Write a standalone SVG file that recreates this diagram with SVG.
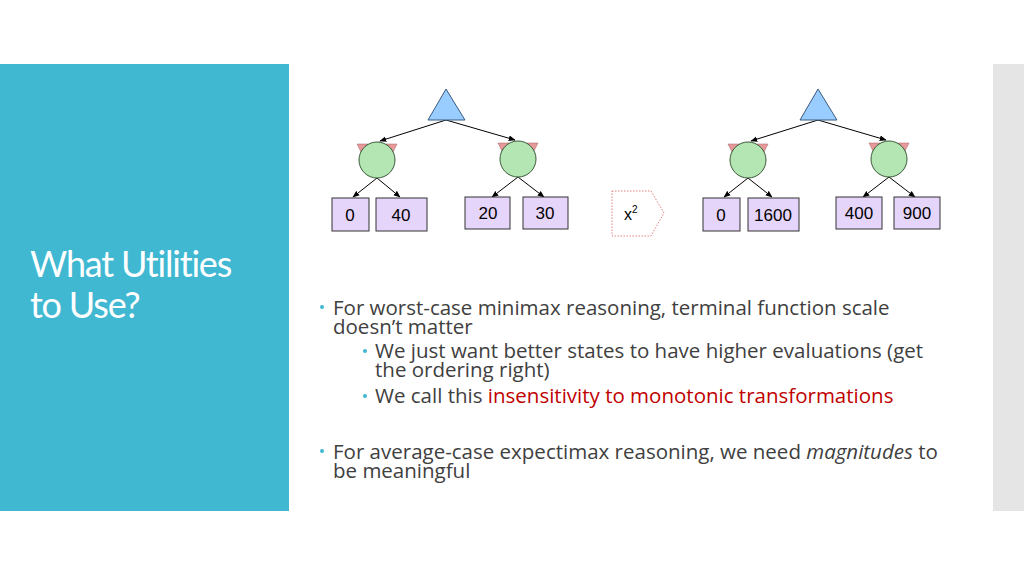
<svg xmlns="http://www.w3.org/2000/svg" width="1024" height="576" viewBox="0 0 1024 576">
<defs>
<marker id="ah" viewBox="0 0 10 10" refX="9" refY="5" markerWidth="7" markerHeight="7" orient="auto"><path d="M0,1 L10,5 L0,9 z" fill="#000"/></marker>
<style>
.tri{fill:#99CCFF;stroke:#3a5a80;stroke-width:1}
.cir{fill:#B3E6B3;stroke:#3c5a3c;stroke-width:1}
.ear{fill:#E89A9A;stroke:#a06060;stroke-width:0.5}
.box{fill:#E6D5FA;stroke:#333;stroke-width:1}
.num{font-family:"Liberation Sans",Arial,sans-serif;font-size:17px;fill:#000;text-anchor:middle}
.edge{stroke:#000;stroke-width:1;fill:none;marker-end:url(#ah)}
.body{font-family:"Open Sans",sans-serif;font-size:20.5px;fill:#404040}
.bul{fill:#40B8D2}
</style>
</defs>
<rect width="1024" height="576" fill="#fff"/>
<rect x="0" y="64" width="289" height="447" fill="#40B8D2"/>
<rect x="993" y="64" width="31" height="447" fill="#E5E5E5"/>
<text font-family="Lato,sans-serif" font-size="36" fill="#fff" letter-spacing="-1.2"><tspan x="30" y="277">What Utilities</tspan><tspan x="30" y="318">to Use?</tspan></text>

<g id="connectors">
<line class="edge" x1="446" y1="120" x2="380" y2="141"/>
<line class="edge" x1="446" y1="120" x2="515" y2="140"/>
<line class="edge" x1="377" y1="178" x2="353" y2="197"/>
<line class="edge" x1="377" y1="178" x2="400" y2="197"/>
<line class="edge" x1="518" y1="177" x2="492" y2="197"/>
<line class="edge" x1="518" y1="177" x2="544" y2="197"/>
<line class="edge" x1="818" y1="120" x2="751" y2="141"/>
<line class="edge" x1="818" y1="120" x2="886" y2="140"/>
<line class="edge" x1="748" y1="178" x2="724" y2="197"/>
<line class="edge" x1="748" y1="178" x2="772" y2="197"/>
<line class="edge" x1="889" y1="177" x2="863" y2="197"/>
<line class="edge" x1="889" y1="177" x2="915" y2="197"/>
</g>

<g id="max1"><polygon class="tri" points="446,89 428,120 465,120"/></g>
<g id="min1a"><polygon class="ear" points="357,144 368,144 361,152"/><polygon class="ear" points="386,144 397,144 393,152"/><circle class="cir" cx="377" cy="160" r="18"/></g>
<g id="min1b"><polygon class="ear" points="498,143 509,143 502,151"/><polygon class="ear" points="527,143 538,143 534,151"/><circle class="cir" cx="518" cy="159" r="18"/></g>
<g id="t1"><rect class="box" x="332" y="198" width="37" height="33"/><text class="num" x="350" y="221">0</text></g>
<g id="t2"><rect class="box" x="376" y="198" width="51" height="33"/><text class="num" x="401" y="221">40</text></g>
<g id="t3"><rect class="box" x="465" y="197" width="45" height="32"/><text class="num" x="488" y="219">20</text></g>
<g id="t4"><rect class="box" x="523" y="197" width="45" height="32"/><text class="num" x="545" y="219">30</text></g>

<g id="xform"><polygon points="612,191 651,191 664,213 651,236 612,236" fill="none" stroke="#E08080" stroke-width="1" stroke-dasharray="1.5,1.5"/><text x="624" y="220" font-family="'Liberation Sans',Arial,sans-serif" font-size="16">x<tspan font-size="10" dy="-7">2</tspan></text></g>

<g id="max2"><polygon class="tri" points="818,89 800,120 837,120"/></g>
<g id="min2a"><polygon class="ear" points="728,144 739,144 732,152"/><polygon class="ear" points="757,144 768,144 764,152"/><circle class="cir" cx="748" cy="160" r="18"/></g>
<g id="min2b"><polygon class="ear" points="869,143 880,143 873,151"/><polygon class="ear" points="898,143 909,143 905,151"/><circle class="cir" cx="889" cy="159" r="18"/></g>
<g id="u1"><rect class="box" x="703" y="198" width="37" height="33"/><text class="num" x="721" y="221">0</text></g>
<g id="u2"><rect class="box" x="748" y="198" width="51" height="33"/><text class="num" x="773" y="221">1600</text></g>
<g id="u3"><rect class="box" x="836" y="197" width="46" height="32"/><text class="num" x="859" y="219">400</text></g>
<g id="u4"><rect class="box" x="894" y="197" width="46" height="32"/><text class="num" x="917" y="219">900</text></g>

<circle class="bul" cx="322" cy="307" r="2"/>
<text class="body" x="333" y="315">For worst-case minimax reasoning, terminal function scale</text>
<text class="body" x="333" y="334">doesn’t matter</text>
<circle class="bul" cx="365" cy="351" r="2"/>
<text class="body" x="375" y="358">We just want better states to have higher evaluations (get</text>
<text class="body" x="375" y="377">the ordering right)</text>
<circle class="bul" cx="365" cy="396" r="2"/>
<text class="body" x="375" y="403">We call this <tspan fill="#C00000">insensitivity to monotonic transformations</tspan></text>
<circle class="bul" cx="322" cy="451" r="2"/>
<text class="body" x="333" y="459">For average-case expectimax reasoning, we need <tspan font-style="italic">magnitudes</tspan> to</text>
<text class="body" x="333" y="478">be meaningful</text>
</svg>
